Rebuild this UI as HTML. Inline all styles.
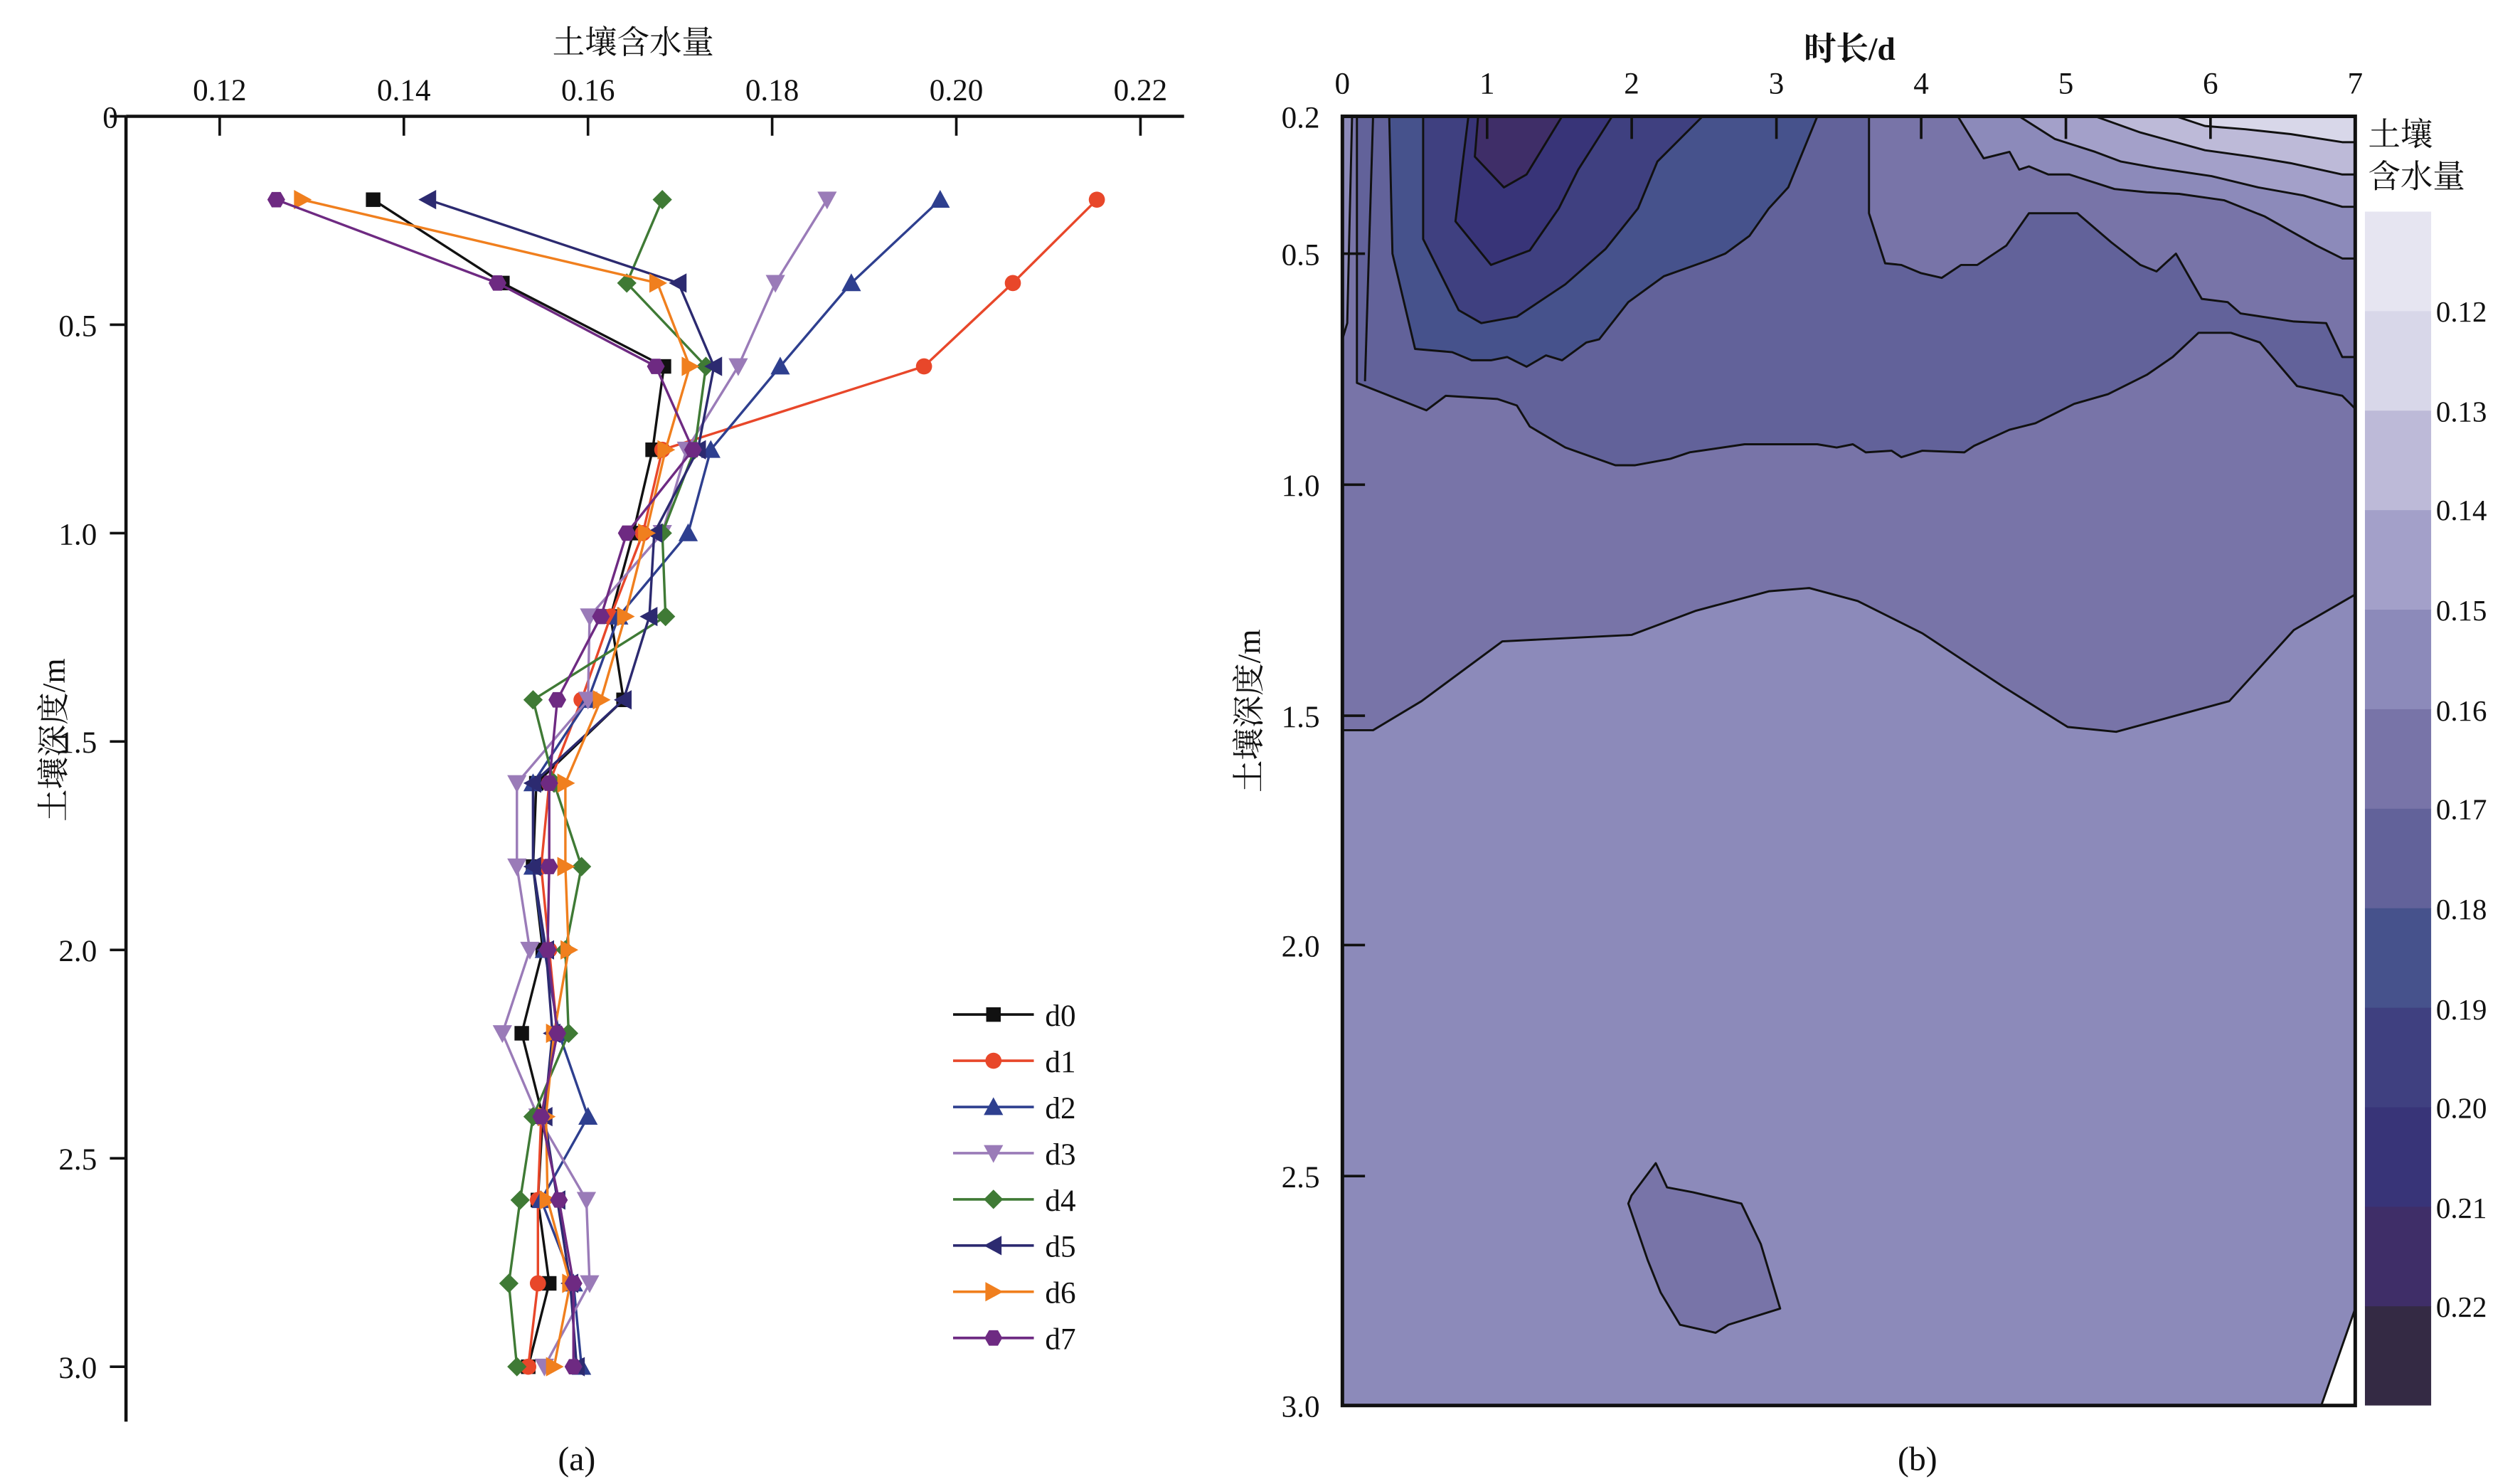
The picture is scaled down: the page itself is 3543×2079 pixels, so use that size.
<!DOCTYPE html>
<html><head><meta charset="utf-8"><style>
html,body{margin:0;padding:0;background:#fff;}
svg{display:block;}
text{font-family:"Liberation Serif","Noto Serif CJK SC",serif;fill:#111;}
</style></head><body>
<svg id="s" xmlns="http://www.w3.org/2000/svg" width="3543" height="2079" viewBox="0 0 1560 915.5" preserveAspectRatio="none">
<rect width="1560" height="916" fill="#fff"/>
<!-- ===== Right contour chart ===== -->
<g stroke="#111" stroke-width="1.3" stroke-linejoin="round">
<rect x="831" y="72" width="627" height="798" fill="#8c8aba" stroke="none"/>
<!-- 0.16-0.17 main -->
<polygon fill="#7874a8" points="831,72 1458,72 1458,368 1420,390 1380,434 1310,453 1280,450 1240,425 1190,392 1150,372 1120,364 1095,366 1050,378 1010,393 930,397 880,434 850,452 831,452"/>
<!-- 0.17-0.18 -->
<polygon fill="#62629a" points="840,72 1458,72 1458,253 1450,245 1422,239 1399,212 1381,206 1361,206 1345,221 1329,232 1305,244 1284,250 1260,262 1244,266 1222,276 1216,280 1190,279 1177,283 1171,279 1155,280 1147,275 1137,277 1125,275 1080,275 1046,280 1034,284 1012,288 1000,288 969,277 947,264 939,251 927,247 895,245 883,254 840,237"/>
<!-- top-right lighter -->
<polygon fill="#7874a8" points="1157,72 1157,132 1167,163 1177,164 1189,169 1202,172 1214,164 1224,164 1242,152 1256,132 1286,132 1307,150 1325,164 1335,168 1347,157 1363,185 1379,187 1387,194 1420,199 1440,200 1450,221 1458,221 1458,72"/>
<polygon fill="#8c8aba" points="1212,72 1228,98 1244,94 1250,105 1256,103 1268,108 1281,108 1309,117 1329,119 1349,120 1377,124 1402,134 1434,152 1450,160 1458,160 1458,72"/>
<polygon fill="#a3a0c9" points="1250,72 1272,86 1297,94 1313,100 1335,104 1369,109 1398,116 1426,121 1450,128 1458,128 1458,72"/>
<polygon fill="#bdbad8" points="1297,72 1325,82 1365,93 1394,97 1418,101 1450,108 1458,108 1458,72"/>
<polygon fill="#d8d7e9" points="1347,72 1365,78 1390,80 1418,83 1450,88 1458,88 1458,72"/>
<!-- left strip lighter -->
<polygon fill="#8c8aba" points="831,72 837,72 834,200 831,210"/>
<!-- dark region -->
<polygon fill="#46528c" points="860,72 862,157 876,216 899,218 911,223 923,223 933,221 945,227 957,220 967,223 982,212 990,210 1008,187 1030,171 1058,161 1068,157 1083,146 1095,129 1107,116 1125,72"/>
<polygon fill="#3f4080" points="881,72 881,148 903,192 917,200 939,196 969,176 994,154 1014,129 1026,100 1054,72"/>
<polygon fill="#383478" points="909,72 901,137 923,164 947,155 965,129 977,105 998,72"/>
<polygon fill="#3f2e68" points="915,72 913,97 931,116 945,108 967,72"/>
<line x1="850" y1="72" x2="845" y2="236" fill="none"/>
<!-- island -->
<polygon fill="#7874a8" points="1025,720 1032,735 1048,738 1078,745 1090,770 1102,810 1070,820 1062,825 1040,820 1028,800 1020,780 1008,745 1010,740"/>
<polygon fill="#fff" points="1437,870 1458,810 1458,870"/>
</g>
<rect x="831" y="72" width="627" height="798" fill="none" stroke="#111" stroke-width="2.2"/>
<g stroke="#111" stroke-width="1.6">
<line x1="831" y1="72" x2="831" y2="86"/><line x1="920.6" y1="72" x2="920.6" y2="86"/><line x1="1010.1" y1="72" x2="1010.1" y2="86"/><line x1="1099.7" y1="72" x2="1099.7" y2="86"/><line x1="1189.3" y1="72" x2="1189.3" y2="86"/><line x1="1278.9" y1="72" x2="1278.9" y2="86"/><line x1="1368.4" y1="72" x2="1368.4" y2="86"/>
<line x1="831" y1="157" x2="845" y2="157"/><line x1="831" y1="300" x2="845" y2="300"/><line x1="831" y1="443" x2="845" y2="443"/><line x1="831" y1="585" x2="845" y2="585"/><line x1="831" y1="728" x2="845" y2="728"/>
</g>
<g font-size="19" text-anchor="middle">
<text x="831" y="58">0</text><text x="920.6" y="58">1</text><text x="1010.1" y="58">2</text><text x="1099.7" y="58">3</text><text x="1189.3" y="58">4</text><text x="1278.9" y="58">5</text><text x="1368.4" y="58">6</text><text x="1458" y="58">7</text>
</g>
<text x="1145" y="37" font-size="20" font-weight="bold" text-anchor="middle">时长/d</text>
<g font-size="19" text-anchor="end">
<text x="817" y="79">0.2</text><text x="817" y="164">0.5</text><text x="817" y="307">1.0</text><text x="817" y="450">1.5</text><text x="817" y="592">2.0</text><text x="817" y="735">2.5</text><text x="817" y="877">3.0</text>
</g>
<text transform="translate(780,440) rotate(-90)" font-size="20" text-anchor="middle">土壤深度/m</text>
<text x="1187" y="910" font-size="21" text-anchor="middle">(b)</text>
<!-- colorbar -->
<g>
<rect x="1464" y="131" width="41" height="62" fill="#e6e5f1"/>
<rect x="1464" y="192.6" width="41" height="62" fill="#d8d7e9"/>
<rect x="1464" y="254.2" width="41" height="62" fill="#bdbad8"/>
<rect x="1464" y="315.8" width="41" height="62" fill="#a3a0c9"/>
<rect x="1464" y="377.4" width="41" height="62" fill="#8c8aba"/>
<rect x="1464" y="439" width="41" height="62" fill="#7874a8"/>
<rect x="1464" y="500.6" width="41" height="62" fill="#62629a"/>
<rect x="1464" y="562.2" width="41" height="62" fill="#46528c"/>
<rect x="1464" y="623.8" width="41" height="62" fill="#3f4080"/>
<rect x="1464" y="685.4" width="41" height="62" fill="#383478"/>
<rect x="1464" y="747" width="41" height="62" fill="#3f2e68"/>
<rect x="1464" y="808.6" width="41" height="61.4" fill="#342a44"/>
</g>
<g font-size="18">
<text x="1508" y="199">0.12</text><text x="1508" y="261">0.13</text><text x="1508" y="322">0.14</text><text x="1508" y="384">0.15</text><text x="1508" y="446">0.16</text><text x="1508" y="507">0.17</text><text x="1508" y="569">0.18</text><text x="1508" y="631">0.19</text><text x="1508" y="692">0.20</text><text x="1508" y="754">0.21</text><text x="1508" y="815">0.22</text>
</g>
<text x="1466" y="90" font-size="20">土壤</text>
<text x="1466" y="116" font-size="20">含水量</text>
<!-- ===== Left chart ===== -->
<g stroke="#111" stroke-width="2">
<line x1="78" y1="72" x2="733" y2="72"/>
<line x1="78" y1="72" x2="78" y2="880"/>
</g>
<g stroke="#111" stroke-width="1.6">
<line x1="136" y1="72" x2="136" y2="84"/><line x1="250" y1="72" x2="250" y2="84"/><line x1="364" y1="72" x2="364" y2="84"/><line x1="478" y1="72" x2="478" y2="84"/><line x1="592" y1="72" x2="592" y2="84"/><line x1="706" y1="72" x2="706" y2="84"/>
<line x1="68" y1="72" x2="78" y2="72"/><line x1="68" y1="201" x2="78" y2="201"/><line x1="68" y1="330" x2="78" y2="330"/><line x1="68" y1="459" x2="78" y2="459"/><line x1="68" y1="588" x2="78" y2="588"/><line x1="68" y1="717" x2="78" y2="717"/><line x1="68" y1="846" x2="78" y2="846"/>
</g>
<g font-size="19" text-anchor="middle">
<text x="136" y="62">0.12</text><text x="250" y="62">0.14</text><text x="364" y="62">0.16</text><text x="478" y="62">0.18</text><text x="592" y="62">0.20</text><text x="706" y="62">0.22</text>
</g>
<text x="392" y="33" font-size="20" text-anchor="middle">土壤含水量</text>
<g font-size="19" text-anchor="end">
<text x="73" y="79">0</text><text x="60" y="208">0.5</text><text x="60" y="337">1.0</text><text x="60" y="466">1.5</text><text x="60" y="595">2.0</text><text x="60" y="724">2.5</text><text x="60" y="853">3.0</text>
</g>
<text transform="translate(40,458) rotate(-90)" font-size="20" text-anchor="middle">土壤深度/m</text>
<text x="357" y="910" font-size="21" text-anchor="middle">(a)</text>
<g id="series"></g>
</svg>
<script>
var data=[
["#111","sq",[231,311,411,404,392,378,386,332,330,336,323,336,333,340,327]],
["#e8472a","ci",[679,627,572,410,398,378,360,340,335,340,345,335,333,333,327]],
["#2e3f8f","up",[582,527,483,440,426,383,364,330,330,337,346,364,335,355,360]],
["#9a7bb8","dn",[512,480,457,425,410,365,364,320,320,328,311,333,363,365,337]],
["#3f7a35","di",[410,388,437,430,410,412,330,343,360,350,352,330,322,315,320]],
["#2c2a70","lt",[265,420,442,432,405,402,386,330,330,338,342,337,345,353,357]],
["#f07f1e","rt",[187,407,427,412,400,387,372,350,350,352,343,338,339,353,343]],
["#6e2a82","hx",[171,308,406,429,388,372,345,340,340,339,345,335,346,355,355]]];
var names=["d0","d1","d2","d3","d4","d5","d6","d7"];
var ns="http://www.w3.org/2000/svg",g=document.getElementById("series");
function el(t,a){var e=document.createElementNS(ns,t);for(var k in a)e.setAttribute(k,a[k]);g.appendChild(e);return e;}
function mk(type,x,y,c){var r=5.5,p;
 if(type=="sq")return el("rect",{x:x-4.5,y:y-4.5,width:9,height:9,fill:c});
 if(type=="ci")return el("circle",{cx:x,cy:y,r:5,fill:c});
 if(type=="up")p=[[x,y-6],[x+6,y+5],[x-6,y+5]];
 if(type=="dn")p=[[x,y+6],[x+6,y-5],[x-6,y-5]];
 if(type=="lt")p=[[x-6,y],[x+5,y-6],[x+5,y+6]];
 if(type=="rt")p=[[x+6,y],[x-5,y-6],[x-5,y+6]];
 if(type=="di")p=[[x,y-6],[x+6,y],[x,y+6],[x-6,y]];
 if(type=="hx"){p=[];for(var i=0;i<6;i++){var a=Math.PI/3*i;p.push([x+r*Math.cos(a),y+r*Math.sin(a)]);}}
 return el("polygon",{points:p.map(function(q){return q.join(",")}).join(" "),fill:c});}
data.forEach(function(s,i){
 var pts=s[2].map(function(x,j){return [x,72+(0.2+0.2*j)*258];});
 el("polyline",{points:pts.map(function(q){return q.join(",")}).join(" "),fill:"none",stroke:s[0],"stroke-width":1.5});
 pts.forEach(function(q){mk(s[1],q[0],q[1],s[0]);});
 var ly=628+i*28.6;
 el("line",{x1:590,y1:ly,x2:640,y2:ly,stroke:s[0],"stroke-width":1.6});
 mk(s[1],615,ly,s[0]);
 var t=el("text",{x:647,y:ly+7,"font-size":19});t.textContent=names[i];
});
</script>
</body></html>
